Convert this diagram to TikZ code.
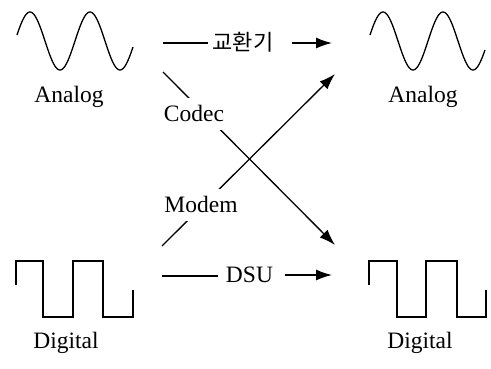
\documentclass[tikz,border=0pt]{standalone}
\usepackage{fontspec}
\setmainfont{Liberation Serif}
\newfontfamily\krfont{Noto Sans CJK KR}
\usetikzlibrary{arrows.meta}
\begin{document}
\begin{tikzpicture}[x=1pt,y=-1pt,
  wave/.style={line width=1.3pt, line join=miter},
  conn/.style={line width=1.3pt},
  arr/.style={conn,-{Latex[length=16pt,width=11pt]}},
  lab/.style={font=\fontsize{23.5}{26}\selectfont, inner sep=0pt, anchor=base},
  cut/.style={lab, fill=white, inner xsep=2pt, inner ysep=7.5pt}]
\useasboundingbox (0,0) rectangle (491,369);

% analog waveforms
\draw[wave] plot[domain=0:116,samples=120,smooth] ({17+\x},{41-29*sin(12+6*\x)});
\draw[wave] plot[domain=0:115,samples=120,smooth] ({370+\x},{41-29*sin(12+6*\x)});

% digital waveforms
\draw[wave] (16,285) -- (16,261) -- (43,261) -- (43,317) -- (73,317) -- (73,261)
  -- (103,261) -- (103,317) -- (133,317) -- (133,290);
\draw[wave] (369,285) -- (369,261) -- (397,261) -- (397,317) -- (426,317) -- (426,261)
  -- (457,261) -- (457,317) -- (486,317) -- (486,290);

% signal names
\node[lab] (anL) at (69,103) {Analog};
\node[lab] (anR) at (423,103) {Analog};
\node[lab] (diL) at (66,348) {Digital};
\node[lab] (diR) at (420,348) {Digital};

% analog to analog: exchange
\coordinate (swA) at (163,43);
\coordinate (swB) at (208,43);
\coordinate (swC) at (292,43);
\coordinate (swD) at (332,43);
\node[font=\fontsize{22}{24}\selectfont, inner sep=0pt] (sw) at (243,42) {\krfont 교환기};
\draw[conn] (swA) -- (swB);
\draw[arr] (swC) -- (swD);

% digital to digital: DSU
\coordinate (dsA) at (162,276);
\coordinate (dsB) at (218,276);
\coordinate (dsC) at (285,275);
\coordinate (dsD) at (332,275);
\node[lab] (dsu) at (249.5,283) {DSU};
\draw[conn] (dsA) -- (dsB);
\draw[arr] (dsC) -- (dsD);

% crossing conversions
\coordinate (cdA) at (163,72);
\coordinate (cdB) at (335,245);
\coordinate (mdA) at (162,246);
\coordinate (mdB) at (335,74);
\draw[arr] (cdA) -- (cdB);
\draw[arr] (mdA) -- (mdB);
\node[cut] (codec) at (194,122) {Codec};
\node[cut] (modem) at (201,213) {Modem};
\end{tikzpicture}
\end{document}
